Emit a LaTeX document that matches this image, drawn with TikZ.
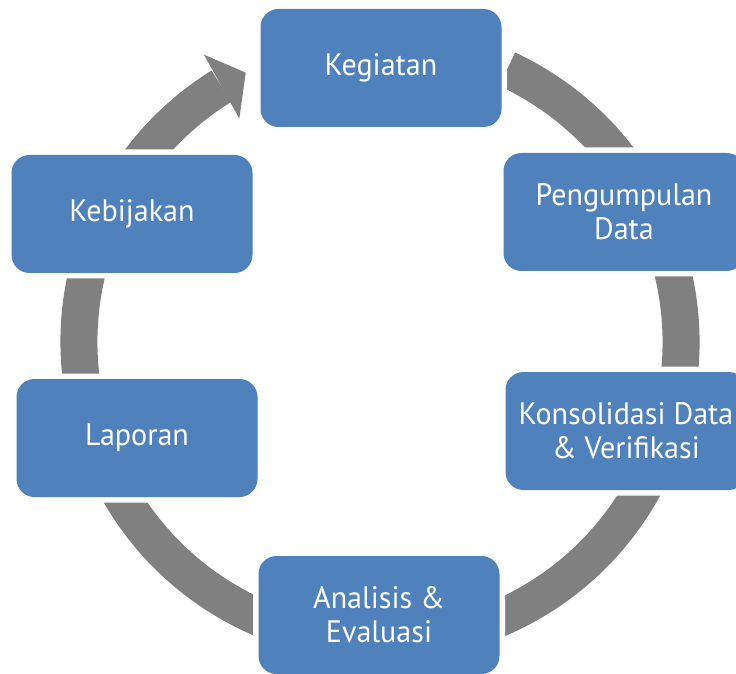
\documentclass[tikz,border=0pt]{standalone}
\usepackage{fontspec}
\setmainfont[FakeStretch=0.97]{PT Sans}
\usetikzlibrary{calc}
\definecolor{boxblue}{HTML}{4F81BD}
\definecolor{ringgray}{HTML}{808080}
\tikzset{
  cyclebox/.style={rectangle, rounded corners=18pt, fill=boxblue,
    minimum width=241pt, minimum height=118pt, inner sep=0pt,
    text=white, font=\fontsize{31}{34}\selectfont, align=center,
    preaction={draw=white, line width=11pt}},
  ringband/.style={draw=ringgray, line width=37pt},
  ringhead/.style={fill=ringgray}
}
\begin{document}
\begin{tikzpicture}[x=1pt,y=1pt]
\useasboundingbox (0,0) rectangle (736,673);
\coordinate (c) at (380,331);
% ring
\draw[ringband] ($(c)+(65:301)$) arc[start angle=65, end angle=-238.2, radius=301];
\fill[ringhead] ($(c)+(121.5:337)$) -- ($(c)+(116.5:301)$) -- ($(c)+(122.2:264)$) -- cycle;
% boxes
\node[cyclebox] (keg) at (381,605) {Kegiatan};
\node[cyclebox] (peng) at (624,461) {Pengumpulan\\Data};
\node[cyclebox] (kons) at (626,242) {Konsolidasi Data\\\& Verifikasi};
\node[cyclebox] (anal) at (379,58) {Analisis \&\\Evaluasi};
\node[cyclebox] (lap) at (137,235) {Laporan};
\node[cyclebox] (keb) at (132,459) {Kebijakan};
\end{tikzpicture}
\end{document}
